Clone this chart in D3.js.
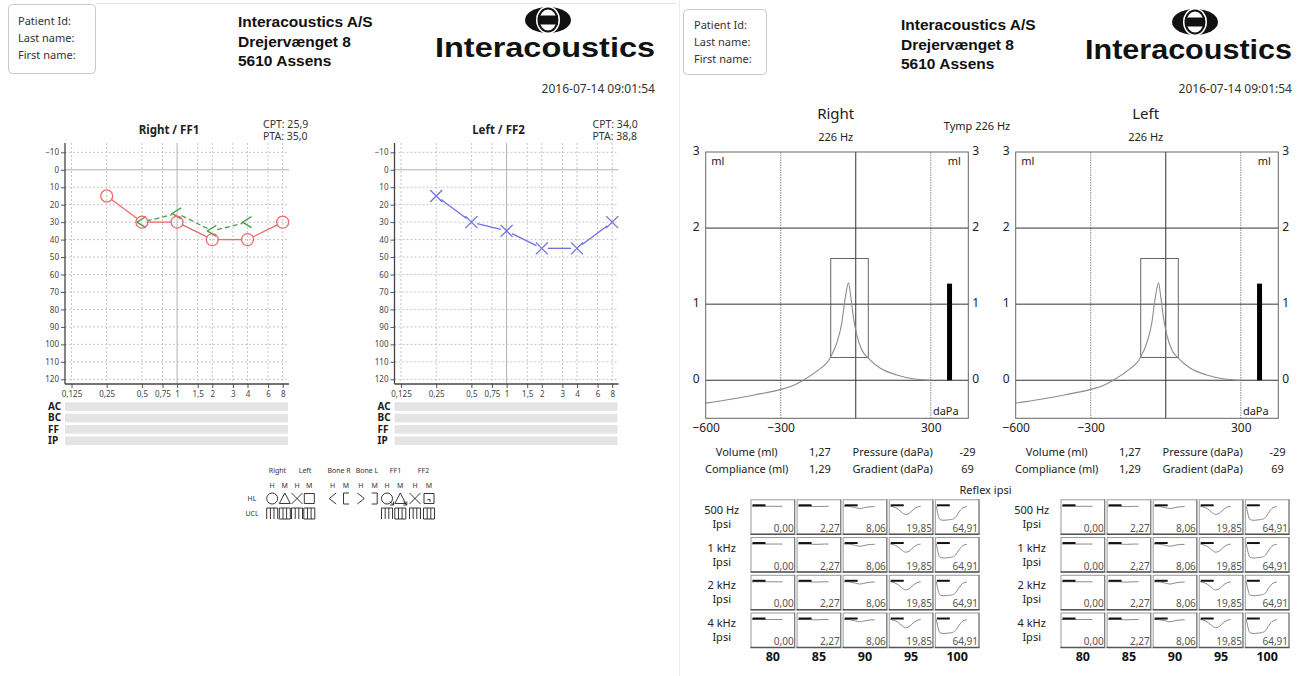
<!DOCTYPE html>
<html><head><meta charset="utf-8">
<script src="https://cdn.jsdelivr.net/npm/d3@7"></script>
<style>body{margin:0;background:#fff;} svg{display:block;}</style>
</head><body><svg id="c" width="1301" height="676"></svg>
<script>
// ---------------- DATA ----------------
const patientLabels = ["Patient Id:", "Last name:", "First name:"];
const companyLines = ["Interacoustics A/S", "Drejervænget 8", "5610 Assens"];
const logoText = "Interacoustics";
const reportDate = "2016-07-14 09:01:54";

const audioFreqs = [0.125, 0.25, 0.5, 0.75, 1, 1.5, 2, 3, 4, 6, 8];
const audioFreqLabels = ["0,125", "0,25", "0,5", "0,75", "1", "1,5", "2", "3", "4", "6", "8"];
const dbTicks = [-10, 0, 10, 20, 30, 40, 50, 60, 70, 80, 90, 100, 110, 120];
const barRows = ["AC", "BC", "FF", "IP"];

const rightAcFreqs = [0.25, 0.5, 1, 2, 4, 8];
const rightAcDb = [15, 30, 30, 40, 40, 30];
const rightBoneFreqs = [0.5, 1, 2, 4];
const rightBoneDb = [30, 25, 35, 30];
const leftAcFreqs = [0.25, 0.5, 1, 2, 4, 8];
const leftAcDb = [15, 30, 35, 45, 45, 30];
const rightSummary = ["CPT: 25,9", "PTA: 35,0"];
const leftSummary = ["CPT: 34,0", "PTA: 38,8"];

const legendGroups = ["Right", "Left", "Bone R", "Bone L", "FF1", "FF2"];

const tympPressure = [-600, -500, -400, -300, -250, -210, -156, -103, -76, -56, -43, -29, -20, -10, 4, 24, 50, 97, 164, 230, 300];
const tympCompliance = [-0.30, -0.25, -0.19, -0.12, -0.07, 0, 0.12, 0.29, 0.49, 0.75, 1.06, 1.28, 1.10, 0.84, 0.60, 0.40, 0.29, 0.16, 0.07, 0.02, 0.0];
const tympYTicks = [0, 1, 2, 3];
const tympXLabels = [-600, -300, 300];
const tympSolidX = [0];
const tympDottedX = [-300, 300];
const normPressure = [-100, 50];
const normCompliance = [0.3, 1.6];
const volumeBarPressure = 375;
const volumeMl = 1.27;
const infoLabels = ["Volume (ml)", "Compliance (ml)"];
const infoValues = ["1,27", "1,29"];
const infoLabels2 = ["Pressure (daPa)", "Gradient (daPa)"];
const infoValues2 = ["-29", "69"];

const reflexFreqs = ["500 Hz", "1 kHz", "2 kHz", "4 kHz"];
const reflexLevels = [80, 85, 90, 95, 100];
const reflexAmplitudes = ["0,00", "2,27", "8,06", "19,85", "64,91"];
const trace80 = [0, 0, 0, 0, 0, 0, 0, 0, 0];
const trace85 = [0, 0, 0, 0, 0.02, 0.02, 0.01, 0, 0];
const trace90 = [0, 0, 0.04, 0.1, 0.16, 0.12, 0.06, 0.03, 0.02];
const trace95 = [0, 0.06, 0.2, 0.42, 0.58, 0.5, 0.25, 0.07, 0.0];
const trace100 = [0, 0.95, 1.0, 0.97, 0.94, 0.8, 0.4, 0.1, 0.02];

// ---------------- DRAWING ----------------
const svg = d3.select("#c");
const FONT = "'Noto Sans', sans-serif";
const ARIAL = "'Liberation Sans', Arial, sans-serif";

function txt(g, x, y, s, size, opts = {}) {
  return g.append("text").attr("x", x).attr("y", y).text(s)
    .attr("font-family", opts.family || FONT).attr("font-size", size)
    .attr("font-weight", opts.weight || "normal")
    .attr("fill", opts.fill || "#222")
    .attr("text-anchor", opts.anchor || "start");
}

// page frames
svg.append("line").attr("x1", 96).attr("x2", 676).attr("y1", 3.5).attr("y2", 3.5).attr("stroke", "#e4e4e4");
svg.append("line").attr("x1", 679.5).attr("x2", 679.5).attr("y1", 0).attr("y2", 676).attr("stroke", "#eeeeee");

function header(o) {
  const g = svg.append("g");
  g.append("rect").attr("x", o.bx).attr("y", o.by).attr("width", o.bw).attr("height", o.bh)
    .attr("rx", 4).attr("fill", "none").attr("stroke", "#c8c8c8");
  patientLabels.forEach((t, i) => txt(g, o.px, o.py + i * 17, t, 11, { fill: "#333" }));
  companyLines.forEach((t, i) => txt(g, o.cx, o.cy + i * 19.5, t, 15.5, { weight: "bold", family: ARIAL, fill: "#111" }));
  // globe
  const gg = g.append("g").attr("transform", `translate(${o.gx},${o.gy})`);
  gg.append("ellipse").attr("rx", 23).attr("ry", 13).attr("fill", "#111");
  gg.append("ellipse").attr("rx", 12).attr("ry", 14).attr("fill", "#fff");
  gg.append("ellipse").attr("rx", 9.5).attr("ry", 11.5).attr("fill", "none").attr("stroke", "#111").attr("stroke-width", 2);
  gg.append("rect").attr("x", -10).attr("y", -4.5).attr("width", 20).attr("height", 9).attr("fill", "#111");
  g.append("text").attr("x", o.lx).attr("y", o.ly).text(logoText)
    .attr("font-family", ARIAL).attr("font-weight", "bold").attr("font-size", o.ls)
    .attr("textLength", o.lw).attr("lengthAdjust", "spacingAndGlyphs").attr("fill", "#111");
  txt(g, o.dx, o.dy, reportDate, 12, { anchor: "end", fill: "#333" });
}
header({ bx: 8.5, by: 4.5, bw: 87, bh: 69, px: 18, py: 25, cx: 238, cy: 27, gx: 548, gy: 20, lx: 435, ly: 57, ls: 28, lw: 220, dx: 655, dy: 93 });
header({ bx: 683.5, by: 9.5, bw: 83, bh: 65, px: 694, py: 29, cx: 901, cy: 30, gx: 1195, gy: 22, lx: 1085, ly: 59, ls: 27, lw: 207, dx: 1292, dy: 93 });

// ---------- audiograms ----------
function trimmedSegments(pts, r) {
  const segs = [];
  for (let i = 0; i < pts.length - 1; i++) {
    const [x1, y1] = pts[i], [x2, y2] = pts[i + 1];
    const dx = x2 - x1, dy = y2 - y1, L = Math.hypot(dx, dy);
    if (L <= 2 * r) continue;
    const ux = dx / L, uy = dy / L;
    segs.push([x1 + ux * r, y1 + uy * r, x2 - ux * r, y2 - uy * r]);
  }
  return segs;
}

function drawSeries(g, x, y, freqs, dbs, color, marker, trim, dash) {
  const pts = freqs.map((f, i) => [x(f), y(dbs[i])]);
  g.selectAll(null).data(trimmedSegments(pts, trim)).join("line")
    .attr("x1", d => d[0]).attr("y1", d => d[1]).attr("x2", d => d[2]).attr("y2", d => d[3])
    .attr("stroke", color).attr("stroke-width", 1.3).attr("stroke-dasharray", dash || null);
  const m = g.selectAll(null).data(pts).join("path")
    .attr("transform", d => `translate(${d[0]},${d[1]})`)
    .attr("fill", "none").attr("stroke", color).attr("stroke-width", 1.3);
  if (marker === "circle") m.attr("d", d3.symbol(d3.symbolCircle, 113)());
  if (marker === "x") m.attr("d", "M-6,-6L6,6M-6,6L6,-6");
  if (marker === "lt") m.attr("d", "M4,-5.5L-5,0L4,5.5");
}

function audiogram(ox, title, summary, series) {
  const X0 = 65 + ox, X1 = 289 + ox, Y0 = 143, Y1 = 384;
  const x = d3.scaleLog().base(2).domain([0.125, 8]).range([71.5 + ox, 282.7 + ox]);
  const y = d3.scaleLinear().domain([-10, 120]).range([152.3, 379.3]);
  const g = svg.append("g");
  g.selectAll(null).data(audioFreqs).join("line")
    .attr("x1", d => x(d)).attr("x2", d => x(d)).attr("y1", Y0).attr("y2", Y1)
    .attr("stroke", d => d === 1 ? "#b0b0b0" : "#c6c6c6").attr("stroke-dasharray", d => d === 1 ? null : "2,2");
  g.selectAll(null).data(dbTicks).join("line")
    .attr("x1", X0).attr("x2", X1).attr("y1", d => y(d)).attr("y2", d => y(d))
    .attr("stroke", d => d === 0 ? "#b0b0b0" : "#c6c6c6").attr("stroke-dasharray", d => d === 0 ? null : "2,2");

  const ya = g.append("g").attr("transform", `translate(${X0},0)`)
    .call(d3.axisLeft(y).tickValues(dbTicks).tickSize(4).tickPadding(2));
  ya.select(".domain").remove();
  ya.selectAll("text").attr("font-size", 8).attr("fill", "#444").attr("font-family", FONT);
  ya.selectAll("line").attr("stroke", "#555");
  const xa = g.append("g").attr("transform", `translate(0,${Y1})`)
    .call(d3.axisBottom(x).tickValues(audioFreqs).tickFormat((d, i) => audioFreqLabels[i]).tickSize(4).tickPadding(3));
  xa.select(".domain").remove();
  xa.selectAll("text").attr("font-size", 8).attr("fill", "#444").attr("font-family", FONT);
  xa.selectAll("line").attr("stroke", "#555");
  g.append("line").attr("x1", X0).attr("x2", X0).attr("y1", Y0).attr("y2", Y1).attr("stroke", "#444").attr("stroke-width", 1.3);
  g.append("line").attr("x1", X0).attr("x2", X1).attr("y1", Y1).attr("y2", Y1).attr("stroke", "#444").attr("stroke-width", 1.3);

  g.selectAll(null).data(barRows).join("rect")
    .attr("x", X0).attr("width", X1 - X0 - 1).attr("y", (d, i) => 402.3 + i * 11.4).attr("height", 8.6).attr("fill", "#e4e4e4");
  barRows.forEach((r, i) => txt(g, 48 + ox, 410 + i * 11.4, r, 10, { weight: "bold", fill: "#1a1a1a" }));

  txt(g, 169 + ox, 134, title, 11.5, { weight: "bold", anchor: "middle", fill: "#222" });
  summary.forEach((s, i) => txt(g, 263 + ox, 127.5 + i * 12, s, 10.5, { fill: "#333" }));

  series.forEach(s => drawSeries(g, x, y, s.f, s.v, s.color, s.marker, s.trim, s.dash));
}

audiogram(0, "Right / FF1", rightSummary, [
  { f: rightBoneFreqs, v: rightBoneDb, color: "#4d9d4d", marker: "lt", trim: 5, dash: "5,3" },
  { f: rightAcFreqs, v: rightAcDb, color: "#ef6a6a", marker: "circle", trim: 6 }
]);
audiogram(329.5, "Left / FF2", leftSummary, [
  { f: leftAcFreqs, v: leftAcDb, color: "#7070e2", marker: "x", trim: 6 }
]);

// ---------- legend ----------
(function legend() {
  const g = svg.append("g").attr("fill", "none").attr("stroke", "#222").attr("stroke-width", 0.9);
  const hdrX = [277.5, 305, 339, 367, 395.5, 423.5];
  legendGroups.forEach((t, i) => txt(svg, hdrX[i], 473, t, 7, { anchor: "middle", fill: "#333" }));
  const colX = [272.2, 284.8, 297, 309.3, 332.7, 346, 360.8, 374.7, 387, 400.3, 415, 429];
  colX.forEach((x, i) => txt(svg, x, 487.5, i % 2 ? "M" : "H", 7, { anchor: "middle", fill: "#333" }));
  txt(svg, 252, 501, "HL", 7, { anchor: "middle", fill: "#333" });
  txt(svg, 252, 516, "UCL", 7, { anchor: "middle", fill: "#333" });
  const hy = 498.5;
  const shapes = [
    "M-5.5,0a5.5,5.5 0 1,0 11,0a5.5,5.5 0 1,0 -11,0",
    "M0,-5.5L5.5,5L-5.5,5Z",
    "M-5.5,-5.5L5.5,5.5M-5.5,5.5L5.5,-5.5",
    "M-5,-5h10v10h-10Z",
    "M3.5,-5.5L-3.5,0L3.5,5.5",
    "M3,-5.5h-5.5v11h5.5",
    "M-3.5,-5.5L3.5,0L-3.5,5.5",
    "M-3,-5.5h5.5v11h-5.5",
    "M-5.5,0a5.5,5.5 0 1,0 11,0a5.5,5.5 0 1,0 -11,0M3,3l3.5,3.5m0,-3.5v3.5h-3.5",
    "M0,-5.5L5.5,5L-5.5,5ZM3,3l3.5,3.5m0,-3.5v3.5h-3.5",
    "M-5.5,-5.5L5.5,5.5M-5.5,5.5L5.5,-5.5",
    "M-5,-5h10v10h-10ZM-1.5,1h2.5v2.5"
  ];
  shapes.forEach((d, i) => g.append("path").attr("d", d).attr("transform", `translate(${colX[i]},${hy})`));
  const comb = "M-5.5,6V-5H5.5V6M-1.8,-5V6M1.8,-5V6";
  const combBox = "M-5.5,6V-5H5.5V6H-5.5M-1.8,-5V6M1.8,-5V6";
  [0, 1, 2, 3, 8, 9, 10, 11].forEach(i => g.append("path").attr("d", i % 2 ? combBox : comb).attr("transform", `translate(${colX[i]},${hy + 14.5})`));
})();

// ---------- tympanograms ----------
function tymp(ox, title) {
  const L = 705.7 + ox, R = 968.3 + ox, T = 152, B = 418.3;
  const x = d3.scaleLinear().domain([-600, 450]).range([L, R]);
  const y = d3.scaleLinear().domain([-0.5, 3]).range([B, T]);
  const g = svg.append("g");
  g.selectAll(null).data(tympDottedX).join("line")
    .attr("x1", d => x(d)).attr("x2", d => x(d)).attr("y1", T).attr("y2", B)
    .attr("stroke", "#8a8a8a").attr("stroke-dasharray", "1.5,1");
  g.selectAll(null).data(tympSolidX).join("line")
    .attr("x1", d => x(d)).attr("x2", d => x(d)).attr("y1", T).attr("y2", B).attr("stroke", "#333");
  g.selectAll(null).data(tympYTicks.slice(0, 3)).join("line")
    .attr("x1", L).attr("x2", R).attr("y1", d => y(d)).attr("y2", d => y(d)).attr("stroke", "#333");
  g.append("rect").attr("x", L).attr("y", T).attr("width", R - L).attr("height", B - T)
    .attr("fill", "none").attr("stroke", "#666");
  // normative box
  g.append("rect").attr("x", x(normPressure[0])).attr("y", y(normCompliance[1]))
    .attr("width", x(normPressure[1]) - x(normPressure[0])).attr("height", y(normCompliance[0]) - y(normCompliance[1]))
    .attr("fill", "none").attr("stroke", "#555").attr("stroke-width", 0.9);
  // curve
  g.append("path").datum(tympPressure.map((p, i) => [p, tympCompliance[i]]))
    .attr("d", d3.line().x(d => x(d[0])).y(d => y(d[1])).curve(d3.curveMonotoneX))
    .attr("fill", "none").attr("stroke", "#8c8c8c").attr("stroke-width", 1.1);
  // volume bar
  g.append("rect").attr("x", x(volumeBarPressure) - 2.5).attr("width", 5)
    .attr("y", y(volumeMl)).attr("height", y(0) - y(volumeMl)).attr("fill", "#000");
  // axes labels
  const fmt = d3.format("d");
  const la = g.append("g").attr("transform", `translate(${L - 4},0)`)
    .call(d3.axisLeft(y).tickValues(tympYTicks).tickFormat(fmt).tickSize(0).tickPadding(2));
  la.select(".domain").remove();
  la.selectAll("text").attr("font-size", 12).attr("font-family", FONT).attr("fill", "#222").attr("dy", "0.2em");
  const ra = g.append("g").attr("transform", `translate(${R + 2},0)`)
    .call(d3.axisRight(y).tickValues(tympYTicks).tickFormat(fmt).tickSize(0).tickPadding(2));
  ra.select(".domain").remove();
  ra.selectAll("text").attr("font-size", 12).attr("font-family", FONT).attr("fill", "#222").attr("dy", "0.2em");
  const ba = g.append("g").attr("transform", `translate(0,${B})`)
    .call(d3.axisBottom(x).tickValues(tympXLabels).tickFormat(fmt).tickSize(0).tickPadding(5));
  ba.select(".domain").remove();
  ba.selectAll("text").attr("font-size", 12).attr("font-family", FONT).attr("fill", "#222");
  txt(g, L + 12, T + 13, "ml", 11, { anchor: "middle" });
  txt(g, R - 14, T + 13, "ml", 11, { anchor: "middle" });
  txt(g, R - 22.5, B - 3, "daPa", 11, { anchor: "middle" });
  txt(g, 835.7 + ox, 119, title, 15, { anchor: "middle" });
  txt(g, 835.7 + ox, 141, "226 Hz", 11, { anchor: "middle" });
  infoLabels.forEach((s, i) => txt(g, 746.7 + ox, 456 + i * 17, s, 11, { anchor: "middle" }));
  infoValues.forEach((s, i) => txt(g, 820 + ox, 456 + i * 17, s, 11, { anchor: "middle" }));
  infoLabels2.forEach((s, i) => txt(g, 892.7 + ox, 456 + i * 17, s, 11, { anchor: "middle" }));
  infoValues2.forEach((s, i) => txt(g, 967.5 + ox, 456 + i * 17, s, 11, { anchor: "middle" }));
}
tymp(0, "Right");
tymp(310, "Left");
txt(svg, 977, 130, "Tymp 226 Hz", 11, { anchor: "middle" });
txt(svg, 985.5, 494, "Reflex ipsi", 11, { anchor: "middle" });

// ---------- reflex grids ----------
const traces = [trace80, trace85, trace90, trace95, trace100];
function reflex(ox) {
  const cx = d3.scaleBand().domain(reflexLevels).range([750.5 + ox, 979.5 + ox]).paddingInner(0.03);
  const ry = d3.scaleBand().domain(reflexFreqs).range([499.3, 648]).paddingInner(0.06);
  const tx = d3.scaleLinear().domain([0, 8]).range([1.5, 32]);
  const ty = d3.scaleLinear().domain([0, 1]).range([7, 21]);
  const bw = cx.bandwidth(), bh = ry.bandwidth();
  const g = svg.append("g");
  reflexFreqs.forEach(f => {
    const top = ry(f);
    txt(g, 721.7 + ox, top + 14.5, f, 11, { anchor: "middle" });
    txt(g, 721.7 + ox, top + 28.5, "Ipsi", 11, { anchor: "middle" });
    reflexLevels.forEach((lv, ci) => {
      const left = cx(lv);
      g.append("rect").attr("x", left + 0.5).attr("y", top + 0.5).attr("width", bw - 1).attr("height", bh - 1)
        .attr("fill", "#fff").attr("stroke", "#9a9a9a");
      g.append("line").attr("x1", left).attr("x2", left + bw).attr("y1", top + bh - 0.5).attr("y2", top + bh - 0.5)
        .attr("stroke", "#555").attr("stroke-width", 1.6);
      g.append("line").attr("x1", left + bw - 0.5).attr("x2", left + bw - 0.5).attr("y1", top).attr("y2", top + bh)
        .attr("stroke", "#777").attr("stroke-width", 1);
      g.append("path").datum(traces[ci])
        .attr("d", d3.line().x((d, i) => left + tx(i)).y(d => top + ty(d)).curve(d3.curveMonotoneX))
        .attr("fill", "none").attr("stroke", "#8a8a8a").attr("stroke-width", 1);
      g.append("line").attr("x1", left + 2).attr("x2", left + 15).attr("y1", top + 6).attr("y2", top + 6)
        .attr("stroke", "#111").attr("stroke-width", 2);
      txt(g, left + bw - 1.5, top + bh - 3, reflexAmplitudes[ci], 10, { anchor: "end", fill: "#555" });
    });
  });
  reflexLevels.forEach(lv => txt(g, cx(lv) + bw / 2, 660.5, String(lv), 12.5, { anchor: "middle", weight: "bold", fill: "#111" }));
}
reflex(0);
reflex(310);
</script>
</body></html>
